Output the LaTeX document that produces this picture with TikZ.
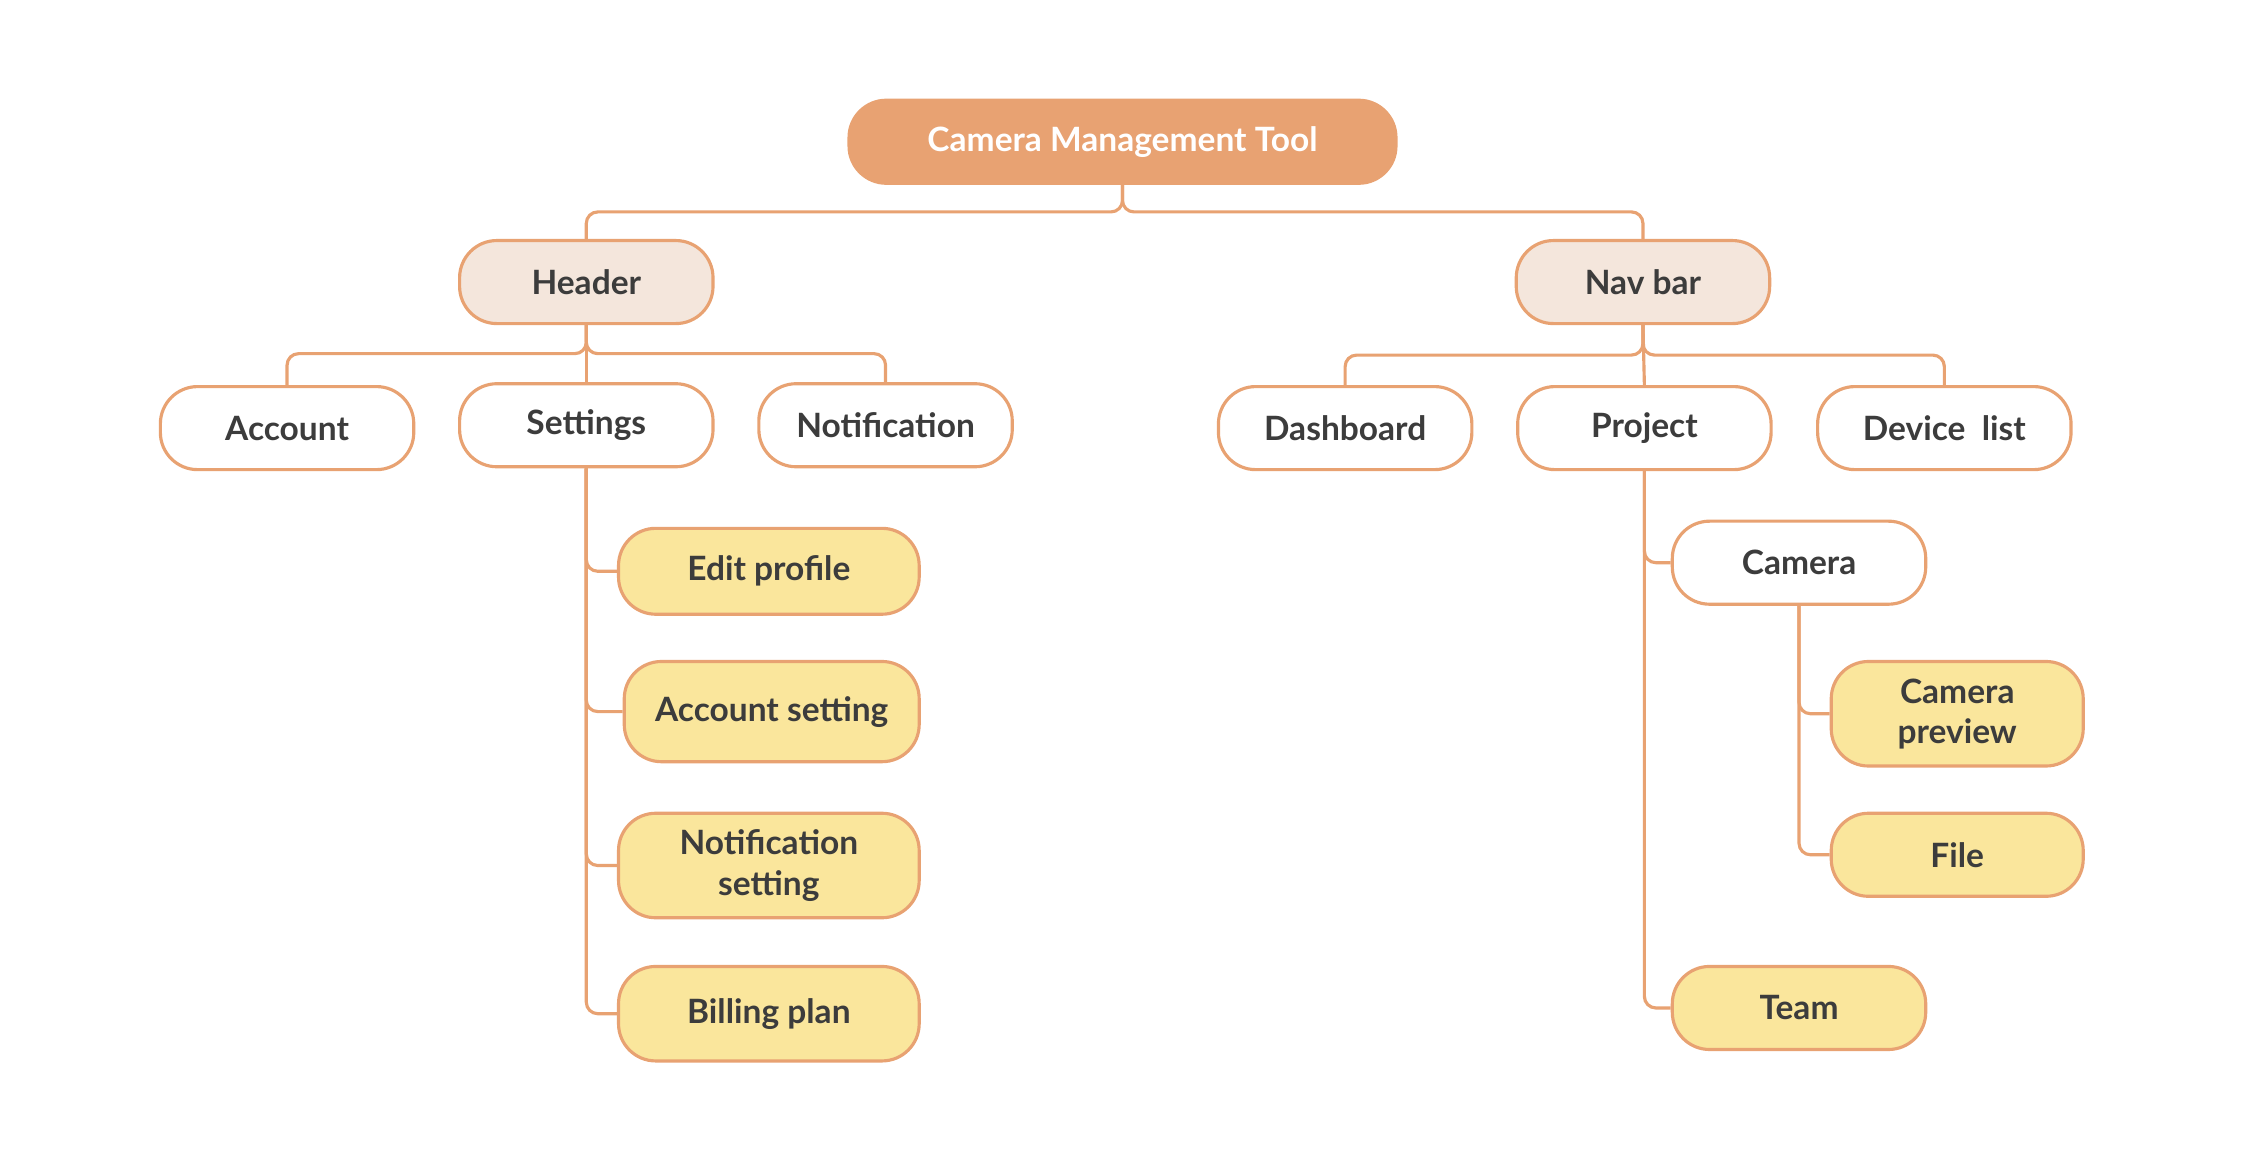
\documentclass[tikz,border=0pt]{standalone}
\usepackage{fontspec}
\setmainfont{Lato}
\usepackage{tikz}

\definecolor{linecol}{RGB}{232,162,114}
\definecolor{rootfill}{RGB}{232,162,114}
\definecolor{groupfill}{RGB}{244,230,220}
\definecolor{leaffill}{RGB}{250,230,156}
\definecolor{textcol}{RGB}{60,60,60}

\tikzset{
  box/.style={draw=linecol, line width=2.2pt, rounded corners=26pt, minimum height=58pt,
    minimum width=177pt, align=center, text=textcol, font=\fontsize{23.4}{28}\selectfont\bfseries,
    inner sep=0pt},
  rootbox/.style={box, fill=rootfill, text=white, minimum width=382pt},
  groupbox/.style={box, fill=groupfill},
  itembox/.style={box, fill=white},
  leafbox/.style={box, fill=leaffill, minimum width=210pt},
  conn/.style={draw=linecol, line width=2.2pt, rounded corners=8pt}
}

\begin{document}
\begin{tikzpicture}[x=1pt, y=-1pt]
  \useasboundingbox (0,0) rectangle (1568,811.6);
  \node[rootbox] (root) at (784,99) {Camera Management Tool};
  \node[groupbox] (header) at (409.5,197) {Header};
  \node[groupbox] (navbar) at (1147.5,197) {Nav bar};
  % second level
  \node[itembox] (account) at (200.5,299) {Account};
  \node[itembox] (settings) at (409.5,297) {Settings};
  \node[itembox] (notification) at (618.5,297) {Notification};
  \node[itembox] (dashboard) at (939.5,299) {Dashboard};
  \node[itembox] (project) at (1148.5,299) {Project};
  \node[itembox] (devicelist) at (1358,299) {Device~ list};
  % settings leaves
  \node[leafbox, minimum height=60pt] (editprofile) at (537,399) {Edit profile};
  \node[leafbox, minimum width=206pt, minimum height=70pt] (accountsetting) at (539,497) {Account setting};
  \node[leafbox, minimum height=73pt] (notifsetting) at (537,604.5) {Notification\\setting};
  \node[leafbox, minimum height=66pt] (billing) at (537,708) {Billing plan};
  % project branch
  \node[itembox] (camera) at (1256.5,393) {Camera};
  \node[leafbox, minimum width=176pt, minimum height=73pt] (campreview) at (1367,498.5) {Camera\\preview};
  \node[leafbox, minimum width=176pt] (file) at (1367,597) {File};
  \node[leafbox, minimum width=177pt] (team) at (1256.5,704) {Team};
  % Draw the tree lines
  \draw[conn] (root.south) -- (784,148) -| (header.north);
  \draw[conn] (root.south) -- (784,148) -| (navbar.north);
  \draw[conn] (header.south) -- (409.5,247) -| (account.north);
  \draw[conn] (header.south) -- (409.5,247) -| (notification.north);
  \draw[conn] (header.south) -- (settings.north);
  \draw[conn] (navbar.south) -- (1147.5,248) -| (dashboard.north);
  \draw[conn] (navbar.south) -- (1147.5,248) -| (devicelist.north);
  \draw[conn] (navbar.south) -- (project.north);
  \draw[conn] (settings.south) |- (editprofile.west);
  \draw[conn] (settings.south) |- (accountsetting.west);
  \draw[conn] (settings.south) |- (notifsetting.west);
  \draw[conn] (settings.south) |- (billing.west);
  \draw[conn] (project.south) |- (camera.west);
  \draw[conn] (project.south) |- (team.west);
  \draw[conn] (camera.south) |- (campreview.west);
  \draw[conn] (camera.south) |- (file.west);
\end{tikzpicture}
\end{document}
